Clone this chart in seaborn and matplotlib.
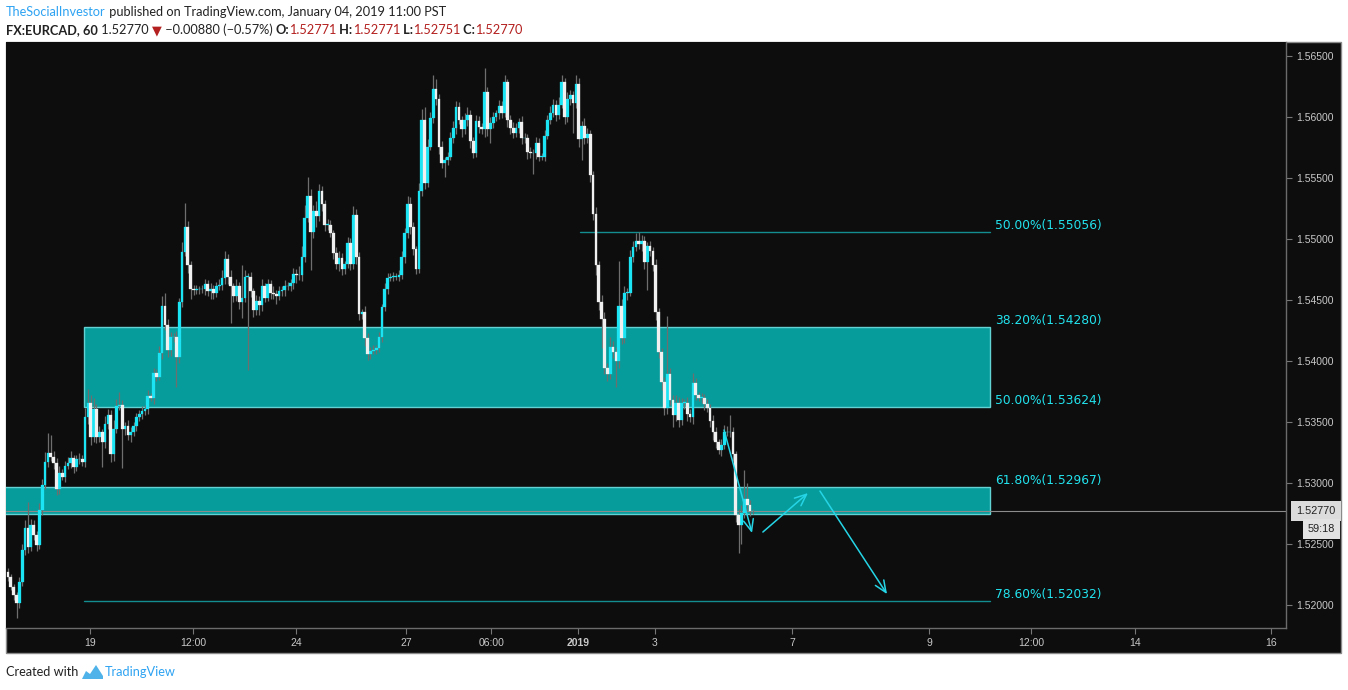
import numpy as np
import pandas as pd
import matplotlib
matplotlib.use("Agg")
import matplotlib.pyplot as plt
import matplotlib.transforms as mtransforms
from matplotlib.patches import Rectangle, Polygon
import seaborn as sns

# FX:EURCAD 60 min closes, 18 Dec 2018 -> 04 Jan 2019
first_open = 1.52270
closes = [
    1.52230, 1.52149, 1.52078, 1.52017, 1.52189, 1.52453, 1.52635, 1.52473, 1.52656, 1.52575,
    1.52493, 1.52777, 1.52980, 1.53173, 1.53244, 1.53214, 1.53163, 1.52950, 1.53082, 1.53051,
    1.53142, 1.53163, 1.53203, 1.53132, 1.53193, 1.53193, 1.53173, 1.53538, 1.53659, 1.53375,
    1.53608, 1.53375, 1.53416, 1.53335, 1.53487, 1.53558, 1.53234, 1.53447, 1.53629, 1.53639,
    1.53447, 1.53467, 1.53396, 1.53416, 1.53467, 1.53538, 1.53568, 1.53588, 1.53608, 1.53710,
    1.53700, 1.53903, 1.53873, 1.54065, 1.54450, 1.54298, 1.54095, 1.54197, 1.54197, 1.54035,
    1.54481, 1.54896, 1.55099, 1.54785, 1.54592, 1.54582, 1.54592, 1.54592, 1.54592, 1.54632,
    1.54572, 1.54592, 1.54562, 1.54612, 1.54622, 1.54683, 1.54835, 1.54693, 1.54612, 1.54531,
    1.54612, 1.54481, 1.54521, 1.54693, 1.54693, 1.54572, 1.54420, 1.54491, 1.54461, 1.54612,
    1.54521, 1.54632, 1.54562, 1.54552, 1.54531, 1.54572, 1.54582, 1.54612, 1.54612, 1.54642,
    1.54713, 1.54703, 1.54703, 1.54855, 1.55170, 1.55352, 1.55058, 1.55231, 1.55190, 1.55393,
    1.55292, 1.55119, 1.55119, 1.55048, 1.54886, 1.54795, 1.54846, 1.54754, 1.54795, 1.54967,
    1.54795, 1.55200, 1.54855, 1.54389, 1.54399, 1.54187, 1.54055, 1.54085, 1.54095, 1.54105,
    1.54197, 1.54440, 1.54592, 1.54683, 1.54693, 1.54693, 1.54693, 1.54703, 1.54855, 1.55048,
    1.55292, 1.55099, 1.54917, 1.54754, 1.55393, 1.55981, 1.55464, 1.55758, 1.55991, 1.56235,
    1.56153, 1.55758, 1.55626, 1.55647, 1.55677, 1.55829, 1.55910, 1.56083, 1.55981, 1.55900,
    1.55981, 1.56022, 1.55809, 1.55707, 1.55971, 1.55920, 1.55900, 1.56204, 1.55900, 1.55951,
    1.56001, 1.56032, 1.56093, 1.56032, 1.56285, 1.55981, 1.55910, 1.55869, 1.55910, 1.55961,
    1.55829, 1.55829, 1.55717, 1.55707, 1.55707, 1.55788, 1.55677, 1.55677, 1.55849, 1.55981,
    1.56032, 1.56103, 1.56022, 1.56103, 1.56285, 1.56001, 1.56153, 1.56184, 1.56113, 1.56275,
    1.55819, 1.55930, 1.55829, 1.55859, 1.55525, 1.55210, 1.54785, 1.54481, 1.54349, 1.53943,
    1.53893, 1.54116, 1.54075, 1.54004, 1.54450, 1.54187, 1.54562, 1.54562, 1.54855, 1.54937,
    1.54988, 1.54957, 1.54988, 1.54815, 1.54947, 1.54906, 1.54785, 1.54399, 1.54075, 1.53832,
    1.53619, 1.53893, 1.53680, 1.53558, 1.53659, 1.53518, 1.53659, 1.53659, 1.53568, 1.53538,
    1.53822, 1.53720, 1.53700, 1.53700, 1.53649, 1.53619, 1.53507, 1.53416, 1.53335, 1.53274,
    1.53315, 1.53416, 1.53416, 1.53416, 1.53234, 1.52737, 1.52656, 1.52757, 1.52869, 1.52818,
    1.52767, 1.52770,
]
# wick lengths beyond the body, in pips
upper_wick_pips = [
    3, 2, 2, 3, 4, 5, 6, 21, 5, 4, 3, 6, 5, 8, 17, 15, 5, 4, 6, 3,
    4, 5, 6, 3, 4, 5, 4, 8, 11, 6, 9, 4, 5, 3, 6, 5, 4, 7, 6, 11,
    4, 3, 5, 4, 3, 4, 3, 4, 3, 5, 3, 4, 3, 6, 8, 11, 5, 4, 3, 5,
    4, 8, 20, 5, 4, 3, 3, 2, 3, 4, 3, 5, 3, 4, 5, 6, 7, 4, 5, 3,
    6, 4, 27, 5, 3, 4, 3, 5, 4, 6, 3, 4, 3, 5, 3, 4, 3, 5, 4, 3,
    5, 4, 8, 9, 11, 16, 6, 5, 8, 6, 4, 3, 5, 4, 3, 5, 6, 4, 3, 5,
    4, 7, 5, 4, 3, 5, 4, 3, 4, 3, 4, 3, 5, 4, 3, 4, 3, 4, 5, 4,
    6, 5, 4, 3, 7, 9, 10, 6, 5, 11, 8, 4, 5, 3, 4, 5, 6, 5, 4, 3,
    5, 6, 4, 3, 5, 4, 3, 20, 4, 5, 4, 3, 5, 4, 6, 3, 4, 5, 4, 3,
    5, 4, 3, 4, 3, 5, 4, 3, 5, 4, 6, 5, 4, 6, 6, 4, 5, 4, 3, 7,
    5, 4, 6, 5, 4, 3, 5, 4, 6, 5, 4, 8, 5, 4, 37, 6, 5, 4, 6, 5,
    6, 7, 5, 4, 3, 4, 3, 5, 4, 3, 4, 48, 5, 4, 6, 5, 4, 3, 5, 4,
    8, 4, 3, 4, 3, 4, 3, 5, 4, 3, 5, 6, 5, 14, 4, 3, 5, 6, 24, 13,
    4, 2,
]
lower_wick_pips = [
    3, 3, 4, 12, 4, 3, 4, 5, 3, 4, 5, 3, 4, 3, 4, 3, 5, 5, 4, 3,
    4, 3, 4, 5, 3, 4, 3, 4, 5, 6, 4, 5, 4, 20, 5, 4, 6, 5, 4, 3,
    32, 5, 4, 6, 3, 4, 3, 4, 3, 4, 3, 5, 4, 3, 5, 4, 6, 5, 4, 25,
    5, 4, 3, 6, 8, 4, 3, 4, 3, 5, 4, 6, 5, 4, 3, 4, 5, 6, 30, 5,
    4, 5, 13, 4, 77, 5, 6, 4, 8, 5, 4, 3, 5, 4, 6, 3, 4, 5, 3, 4,
    5, 6, 4, 5, 4, 3, 31, 5, 9, 4, 6, 5, 4, 3, 5, 4, 6, 5, 4, 3,
    5, 4, 6, 5, 4, 6, 5, 4, 3, 4, 3, 4, 3, 4, 3, 4, 3, 4, 3, 5,
    4, 6, 5, 4, 3, 4, 5, 4, 3, 4, 5, 6, 4, 12, 4, 3, 4, 5, 4, 6,
    4, 5, 6, 4, 3, 5, 4, 6, 5, 11, 4, 3, 5, 4, 3, 6, 5, 4, 3, 4,
    5, 4, 6, 4, 17, 5, 4, 3, 4, 3, 4, 3, 5, 4, 3, 6, 4, 5, 24, 4,
    6, 17, 5, 4, 6, 5, 8, 6, 24, 5, 6, 4, 5, 22, 6, 5, 4, 6, 3, 4,
    3, 4, 5, 6, 23, 4, 5, 6, 5, 7, 6, 5, 4, 10, 5, 6, 4, 5, 6, 4,
    5, 4, 3, 4, 5, 4, 5, 6, 5, 4, 5, 4, 3, 4, 5, 6, 23, 16, 4, 5,
    4, 2,
]

# fib retracement levels and the two shaded zones
fib_levels = [1.55056, 1.54280, 1.53624, 1.52967, 1.52032]
fib_labels = ["50.00%(1.55056)", "38.20%(1.54280)", "50.00%(1.53624)",
              "61.80%(1.52967)", "78.60%(1.52032)"]
zone_upper = [1.53624, 1.54280]
zone_lower = [1.52746, 1.52967]
last_price = 1.52770
countdown = "59:18"

# time axis, in bar index units (weekends/holidays collapsed like TradingView)
time_ticks = [28.9, 64.8, 100.9, 139.5, 169.4, 199.7, 226.7, 274.7, 322.7, 358.4, 394.9, 442.5]
time_labels = ["19", "12:00", "24", "27", "06:00", "2019", "3", "7", "9", "12:00", "14", "16"]

# hand drawn projection arrows: (bar, price) start -> end
arrow_starts = [(250.9, 1.53435), (264.5, 1.52598), (284.5, 1.52934)]
arrow_ends = [(260.7, 1.52590), (280.3, 1.52918), (308.0, 1.52089)]

W, H = 1348, 690
BG = "#0d0d0d"
UP = "#1be4f4"
DOWN = "#f0f0f0"
TEAL = "#079c9c"
LABEL = "#22e3ee"

sns.set_theme(style="dark", rc={"axes.facecolor": BG, "figure.facecolor": "white"})
plt.rcParams["font.family"] = ["Lato", "DejaVu Sans"]

fig = plt.figure(figsize=(W / 100, H / 100), dpi=100)
ax = fig.add_axes([6 / W, 1 - 628 / H, 1280 / W, 586 / H])

# dark panel behind everything (includes the axis strips)
fig.patches.append(Rectangle((6 / W, 1 - 653 / H), 1335 / W, 611 / H, transform=fig.transFigure,
                             facecolor=BG, edgecolor="#8a8a8a", lw=1, zorder=-1))

df = pd.DataFrame({"close": closes, "up_w": upper_wick_pips, "lo_w": lower_wick_pips})
df["open"] = df["close"].shift(1).fillna(first_open)
df["bar"] = np.arange(len(df))
df["top"] = df[["open", "close"]].max(axis=1)
df["bot"] = df[["open", "close"]].min(axis=1)
df["high"] = df["top"] + df["up_w"] * 1e-4
df["low"] = df["bot"] - df["lo_w"] * 1e-4
df["rising"] = df["close"] >= df["open"]
body = (df["close"] - df["open"]).to_numpy()
body = np.where(np.abs(body) < 3e-5, 3e-5, body)

# zones and fib lines
x_left, x_zone, x_mid, x_right, x_text = -5, 26.6, 200.4, 344.1, 345.8
ax.add_patch(Rectangle((x_zone, zone_upper[0]), x_right - x_zone, zone_upper[1] - zone_upper[0],
                       facecolor=TEAL, edgecolor="#63d2d3", lw=1, zorder=2))
ax.add_patch(Rectangle((x_left, zone_lower[0]), x_right - x_left, zone_lower[1] - zone_lower[0],
                       facecolor=TEAL, edgecolor="#63d2d3", lw=1, zorder=2))
for lvl, x0 in [(fib_levels[0], x_mid), (fib_levels[4], x_zone)]:
    sns.lineplot(x=[x0, x_right], y=[lvl, lvl], color="#138d90", lw=1, ax=ax, zorder=2)
for lvl, lab in zip(fib_levels, fib_labels):
    ax.text(x_text, lvl, lab, color=LABEL, fontsize=8.8, family="DejaVu Sans",
            ha="left", va="bottom", zorder=6)

ax.axhline(last_price, color="#8c8c8c", lw=0.8, zorder=2.5)

# candles
ax.vlines(df["bar"], df["low"], df["high"], color="#6e6e6e", lw=0.9, zorder=3)
r = df["rising"].to_numpy()
ax.bar(df["bar"][r], body[r], bottom=df["open"][r], width=0.95, color=UP,
       edgecolor=UP, lw=0.2, zorder=4)
ax.bar(df["bar"][~r], body[~r], bottom=df["open"][~r], width=0.95, color=DOWN,
       edgecolor=DOWN, lw=0.2, zorder=4)

for s, e in zip(arrow_starts, arrow_ends):
    ax.annotate("", xy=e, xytext=s, zorder=7,
                arrowprops=dict(arrowstyle="->,head_length=0.7,head_width=0.3",
                                color="#25d5e6", lw=1.1, shrinkA=0, shrinkB=0))

ax.set_xlim(-0.7, 447.8)
ax.set_ylim(1.51811, 1.56617)

# axes styling
yt = np.arange(1.52, 1.5651, 0.005)
ax.yaxis.tick_right()
ax.set_yticks(yt)
ax.set_yticklabels([f"{v:.5f}" for v in yt])
ax.set_xticks(time_ticks)
ax.set_xticklabels(time_labels)
ax.tick_params(axis="y", right=True, left=False, labelright=True, labelleft=False,
               length=4, width=0.8, color="#777777", labelcolor="#c8c8c8", labelsize=7.5, pad=3)
ax.tick_params(axis="x", bottom=True, length=4, width=0.8, color="#777777",
               labelcolor="#c8c8c8", labelsize=7.5, pad=3.5)
for lbl in ax.get_xticklabels() + ax.get_yticklabels():
    lbl.set_fontfamily("Liberation Sans")
ax.get_xticklabels()[time_labels.index("2019")].set_fontweight("bold")
ax.set_xlabel("")
ax.set_ylabel("")
for side in ["top", "left"]:
    ax.spines[side].set_visible(False)
for side in ["right", "bottom"]:
    ax.spines[side].set_visible(True)
    ax.spines[side].set_color("#6b6b6b")
    ax.spines[side].set_linewidth(1)

# price tag + countdown on the price axis
tr = mtransforms.blended_transform_factory(ax.transAxes, ax.transData)
ax.text(1.0385, last_price, "1.52770", transform=tr, ha="right", va="center", fontsize=7.8,
        family="Liberation Sans", color="#222222", clip_on=False, zorder=8,
        bbox=dict(boxstyle="square,pad=0.5", fc="#dcdcdc", ec="none"))
ax.text(1.0385, 1.52623, countdown, transform=tr, ha="right", va="center", fontsize=7.8,
        family="Liberation Sans", color="#222222", clip_on=False, zorder=8,
        bbox=dict(boxstyle="square,pad=0.45", fc="#e2e2e2", ec="none"))


# header / footer text runs
def text_run(x_px, y_px, parts, size):
    rend = fig.canvas.get_renderer()
    x = x_px
    for s, col, wt in parts:
        t = fig.text(x / W, 1 - y_px / H, s, color=col, fontweight=wt, fontsize=size,
                     ha="left", va="center")
        x += t.get_window_extent(renderer=rend).width


DARK, RED, BLUE = "#222222", "#b3201f", "#2ea3f2"
text_run(6, 12, [("TheSocialInvestor", BLUE, "normal"),
                 (" published on TradingView.com, January 04, 2019 11:00 PST", DARK, "normal")], 9.2)
text_run(6, 30, [("FX:EURCAD, 60", DARK, "bold"), (" 1.52770 ", DARK, "normal"),
                 ("\u25bc", RED, "normal"), (" \u22120.00880 (\u22120.57%) ", DARK, "normal"),
                 ("O:", DARK, "bold"), ("1.52771", RED, "normal"), (" H:", DARK, "bold"),
                 ("1.52771", RED, "normal"), (" L:", DARK, "bold"), ("1.52751", RED, "normal"),
                 (" C:", DARK, "bold"), ("1.52770", RED, "normal")], 9.2)
text_run(6, 672, [("Created with", DARK, "normal")], 9.2)
logo = [(82, 679), (86, 671), (90, 674), (96, 665), (103, 676), (103, 679)]
fig.patches.append(Polygon([(px / W, 1 - py / H) for px, py in logo], closed=True,
                           transform=fig.transFigure, facecolor="#4fb3ea", edgecolor="none"))
text_run(105, 672, [("TradingView", BLUE, "normal")], 9.2)

fig.savefig("out.png", dpi=100)
